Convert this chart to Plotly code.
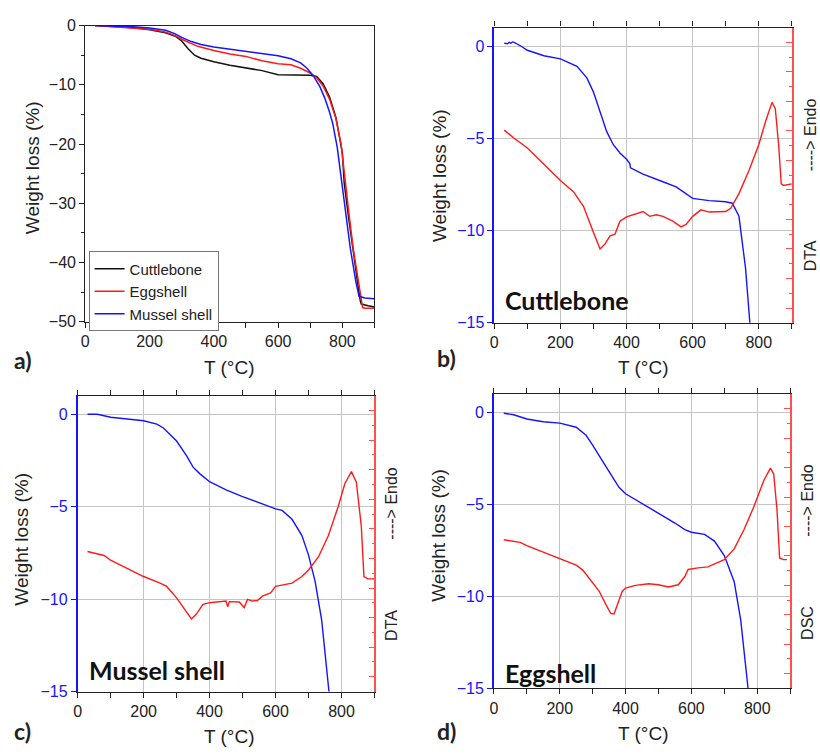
import plotly.graph_objects as go

# ---------------- data ----------------
# Panel a) TGA of three materials (T in °C, weight loss in %)
a_cuttle_T = [30, 100, 150, 200, 250, 280, 300, 320, 340, 360, 400, 450, 500, 550, 600, 650, 700, 720, 740, 760, 780, 800, 806, 819, 832, 847, 856, 859, 880, 900]
a_cuttle_W = [0, -0.15, -0.35, -0.7, -1.2, -1.8, -2.6, -3.9, -5.0, -5.5, -6.1, -6.7, -7.2, -7.6, -8.3, -8.4, -8.4, -8.6, -9.8, -12.0, -15.5, -21.5, -26.7, -32.2, -37.7, -43.2, -46.5, -47.0, -47.3, -47.5]
a_egg_T = [30, 100, 150, 200, 250, 280, 300, 350, 400, 450, 500, 550, 600, 640, 670, 700, 720, 740, 760, 780, 796, 809, 821.6, 834, 849.5, 860, 863, 870, 900]
a_egg_W = [0, -0.2, -0.4, -0.6, -1.1, -1.7, -2.3, -3.5, -4.2, -4.8, -5.2, -5.95, -6.45, -6.6, -7.2, -8.0, -8.8, -10.2, -12.4, -15.7, -20.0, -26.7, -32.2, -37.7, -43.2, -46.8, -47.6, -47.7, -47.7]
a_mussel_T = [30, 100, 150, 200, 250, 280, 300, 330, 360, 400, 450, 500, 550, 600, 640, 670, 690, 710, 730, 745, 760, 770, 784, 798, 811, 825, 842, 852, 870, 900]
a_mussel_W = [0, -0.1, -0.2, -0.4, -0.8, -1.4, -2.0, -2.7, -3.2, -3.6, -4.0, -4.4, -4.8, -5.1, -5.6, -6.3, -7.2, -8.5, -10.3, -12.2, -14.6, -16.5, -20.5, -26.7, -32.2, -37.7, -43.2, -45.7, -46.0, -46.1]

# Panel b) Cuttlebone TGA + DTA (DTA in arbitrary units 0-20)
b_tga_T = [30, 40, 45, 50, 55, 60, 80, 100, 150, 200, 250, 280, 300, 320, 340, 360, 380, 400, 410, 412, 450, 500, 550, 600, 650, 700, 720, 740, 760, 773, 790]
b_tga_W = [0.15, 0.12, 0.2, 0.15, 0.22, 0.2, 0.0, -0.23, -0.53, -0.7, -1.1, -1.73, -2.5, -3.6, -4.64, -5.35, -5.8, -6.14, -6.37, -6.6, -6.94, -7.29, -7.64, -8.26, -8.38, -8.44, -8.52, -9.23, -12.05, -15.0, -18.0]
b_dta_T = [30, 60, 100, 150, 200, 240, 270, 300, 320, 335, 350, 365, 380, 400, 420, 450, 470, 490, 510, 540, 565, 580, 600, 625, 650, 700, 715, 740, 770, 800, 820, 840, 850, 860, 868, 875, 900]
b_dta_V = [13.05, 12.5, 11.84, 10.74, 9.64, 8.86, 7.87, 6.11, 5.0, 5.34, 5.89, 6.0, 6.88, 7.17, 7.32, 7.54, 7.21, 7.32, 7.21, 6.88, 6.5, 6.66, 7.21, 7.65, 7.5, 7.54, 7.76, 8.75, 10.3, 12.06, 13.6, 14.93, 14.5, 12.06, 9.41, 9.3, 9.41]

# Panel c) Mussel shell TGA + DTA
c_tga_T = [30, 60, 100, 150, 200, 240, 260, 300, 330, 350, 370, 400, 450, 500, 550, 600, 620, 650, 680, 700, 720, 740, 762, 780]
c_tga_W = [0.0, 0.0, -0.16, -0.25, -0.35, -0.53, -0.74, -1.45, -2.24, -2.86, -3.21, -3.65, -4.09, -4.45, -4.8, -5.12, -5.2, -5.68, -6.56, -7.62, -9.04, -11.15, -15.0, -18.0]
c_dta_T = [30, 80, 100, 150, 200, 250, 270, 300, 330, 345, 360, 380, 400, 440, 450, 455, 460, 490, 505, 515, 530, 545, 560, 585, 600, 650, 680, 700, 730, 760, 790, 810, 830, 845, 860, 868, 880, 900]
c_dta_V = [9.47, 9.2, 8.88, 8.33, 7.78, 7.33, 7.11, 6.34, 5.35, 4.91, 5.24, 5.9, 6.01, 6.12, 6.12, 5.73, 6.08, 6.06, 5.68, 6.23, 6.12, 6.16, 6.45, 6.67, 7.11, 7.33, 7.78, 8.22, 9.1, 10.53, 12.51, 14.05, 14.87, 14.16, 11.19, 7.78, 7.62, 7.62]

# Panel d) Eggshell TGA + DSC
d_tga_T = [30, 60, 100, 150, 200, 250, 280, 300, 330, 360, 380, 400, 450, 500, 550, 580, 600, 640, 670, 700, 730, 750, 770, 790]
d_tga_W = [-0.04, -0.12, -0.35, -0.5, -0.58, -0.8, -1.24, -1.77, -2.65, -3.54, -4.07, -4.42, -4.95, -5.45, -6.01, -6.37, -6.51, -6.63, -6.99, -7.78, -9.2, -11.3, -15.0, -18.0]
d_dsc_T = [30, 80, 100, 150, 200, 250, 270, 300, 320, 340, 355, 365, 375, 390, 400, 430, 470, 500, 530, 560, 580, 590, 620, 650, 700, 730, 760, 790, 820, 840, 850, 860, 868, 880, 890]
d_dsc_V = [10.1, 9.92, 9.7, 9.26, 8.81, 8.37, 8.04, 7.15, 6.6, 5.71, 5.09, 5.05, 5.71, 6.6, 6.82, 7.0, 7.11, 7.04, 6.89, 7.04, 7.6, 8.08, 8.19, 8.26, 8.75, 9.48, 10.8, 12.36, 14.13, 14.97, 14.57, 12.14, 8.86, 8.75, 8.75]

x_tickvals = [0, 200, 400, 600, 800]
a_y_tickvals = [0, -10, -20, -30, -40, -50]
bcd_y_tickvals = [0, -5, -10, -15]

# ---------------- styling ----------------
W, H = 820, 756
BLUE = "#1414ff"
RED = "#ff1a1a"
AXRED = "#ff5050"
GRID = "#c4c4c4"
FONT = "Arial"
BOLD = "Lato"


def px(x):
    return x / W


def py(y):
    return 1 - y / H


fig = go.Figure()

# Panel a
fig.add_trace(go.Scatter(x=a_cuttle_T, y=a_cuttle_W, mode="lines", name="Cuttlebone",
                         line=dict(color="#111111", width=1.5), xaxis="x", yaxis="y"))
fig.add_trace(go.Scatter(x=a_egg_T, y=a_egg_W, mode="lines", name="Eggshell",
                         line=dict(color=RED, width=1.5), xaxis="x", yaxis="y"))
fig.add_trace(go.Scatter(x=a_mussel_T, y=a_mussel_W, mode="lines", name="Mussel shell",
                         line=dict(color=BLUE, width=1.5), xaxis="x", yaxis="y"))

# Panel b
fig.add_trace(go.Scatter(x=b_tga_T, y=b_tga_W, mode="lines", showlegend=False,
                         line=dict(color=BLUE, width=1.4), xaxis="x2", yaxis="y2"))
fig.add_trace(go.Scatter(x=b_dta_T, y=b_dta_V, mode="lines", showlegend=False,
                         line=dict(color=RED, width=1.4), xaxis="x2", yaxis="y3"))
# Panel c
fig.add_trace(go.Scatter(x=c_tga_T, y=c_tga_W, mode="lines", showlegend=False,
                         line=dict(color=BLUE, width=1.4), xaxis="x3", yaxis="y4"))
fig.add_trace(go.Scatter(x=c_dta_T, y=c_dta_V, mode="lines", showlegend=False,
                         line=dict(color=RED, width=1.4), xaxis="x3", yaxis="y5"))
# Panel d
fig.add_trace(go.Scatter(x=d_tga_T, y=d_tga_W, mode="lines", showlegend=False,
                         line=dict(color=BLUE, width=1.4), xaxis="x4", yaxis="y6"))
fig.add_trace(go.Scatter(x=d_dsc_T, y=d_dsc_V, mode="lines", showlegend=False,
                         line=dict(color=RED, width=1.4), xaxis="x4", yaxis="y7"))

tickfont = dict(family=FONT, size=16, color="#222222")


def xaxis(domain, anchor, grid):
    return dict(domain=domain, anchor=anchor, range=[0, 900], tickvals=x_tickvals,
                ticks="outside", ticklen=5, tickcolor="#222222", tickwidth=1.2,
                minor=dict(dtick=100, tick0=0, ticks="outside", ticklen=5, tickcolor="#222222",
                           tickwidth=1.2, showgrid=False),
                showline=True, linecolor="#222222", linewidth=1.3,
                mirror=("ticks" if grid else True), showgrid=grid, gridcolor=GRID, gridwidth=1,
                zeroline=False, tickfont=tickfont, fixedrange=True)


def yleft(domain, anchor):
    return dict(domain=domain, anchor=anchor, range=[-15, 1], tickvals=bcd_y_tickvals,
                ticks="outside", ticklen=5, tickcolor=BLUE, tickwidth=1.2,
                showline=True, linecolor=BLUE, linewidth=1.6,
                showgrid=True, gridcolor=GRID, gridwidth=1, zeroline=False,
                tickfont=dict(family=FONT, size=16, color=BLUE), fixedrange=True)


def yright(overlay, anchor):
    return dict(overlaying=overlay, anchor=anchor, side="right", range=[0, 20],
                tick0=1, dtick=2, ticks="inside", ticklen=6, tickcolor=AXRED, tickwidth=1.3,
                minor=dict(dtick=2, tick0=0, ticks="inside", ticklen=3, tickcolor=AXRED, tickwidth=1.3),
                showticklabels=False, showline=True, linecolor=AXRED, linewidth=1.6,
                showgrid=False, zeroline=False, fixedrange=True)


fig.update_layout(
    width=W, height=H, margin=dict(l=0, r=0, t=0, b=0),
    paper_bgcolor="white", plot_bgcolor="white",
    font=dict(family=FONT, size=16, color="#222222"),
    showlegend=True,
    legend=dict(x=px(85), y=py(249), xanchor="left", yanchor="top",
                bordercolor="#777777", borderwidth=1, bgcolor="white",
                font=dict(family=FONT, size=15, color="#222222"),
                tracegroupgap=0, itemwidth=30),
    xaxis=xaxis([px(81.7), px(372.3)], "y", False),
    yaxis=dict(domain=[py(321), py(18)], anchor="x", range=[-50, 0], tickvals=a_y_tickvals,
               ticks="outside", ticklen=5, tickcolor="#222222", tickwidth=1.2,
               minor=dict(dtick=5, tick0=0, ticks="outside", ticklen=3, tickcolor="#222222", tickwidth=1.2),
               showline=True, linecolor="#222222", linewidth=1.3, mirror=True,
               showgrid=False, zeroline=False, tickfont=tickfont, fixedrange=True),
    xaxis2=xaxis([px(492.7), px(791.7)], "y2", True),
    yaxis2=yleft([py(322), py(20)], "x2"),
    yaxis3=yright("y2", "x2"),
    xaxis3=xaxis([px(74), px(372.3)], "y4", True),
    yaxis4=yleft([py(699.3), py(396.7)], "x3"),
    yaxis5=yright("y4", "x3"),
    xaxis4=xaxis([px(492.3), px(790)], "y6", True),
    yaxis6=yleft([py(696), py(395)], "x4"),
    yaxis7=yright("y6", "x4"),
)

anns = []


def ann(text, x, y, size, angle=0, family=FONT, color="#222222", xanchor="center", yanchor="middle"):
    anns.append(dict(text=text, x=px(x), y=py(y), xref="paper", yref="paper",
                     showarrow=False, textangle=angle, xanchor=xanchor, yanchor=yanchor,
                     font=dict(family=family, size=size, color=color)))


# axis titles
for (xc, yc) in [(227, 368), (643, 368), (227, 745), (643, 742)]:
    ann("T (°C)", xc, yc, 19)
for (xc, yc) in [(28, 163), (437, 171), (18, 543), (437, 539)]:
    ann("Weight loss (%)", xc, yc, 19, angle=-90)
# right titles
ann("----> Endo", 810, 130, 16, angle=-90)
ann("DTA", 810, 254, 16, angle=-90)
ann("----> Endo", 390, 507, 16, angle=-90)
ann("DTA", 390, 632, 16, angle=-90)
ann("----> Endo", 808, 504, 16, angle=-90)
ann("DSC", 808, 629, 16, angle=-90)
# panel letters
ann("<b>a)</b>", 19, 360, 23, family=BOLD)
ann("<b>b)</b>", 445, 358, 23, family=BOLD)
ann("<b>c)</b>", 19, 740, 23, family=BOLD)
ann("<b>d)</b>", 445, 740, 23, family=BOLD)
# sample names
ann("<b>Cuttlebone</b>", 566, 299, 25, family=BOLD, color="#111111")
ann("<b>Mussel shell</b>", 154, 677, 25, family=BOLD, color="#111111")
ann("<b>Eggshell</b>", 549, 680, 25, family=BOLD, color="#111111")

fig.update_layout(annotations=anns)

fig.write_html("out.html")
